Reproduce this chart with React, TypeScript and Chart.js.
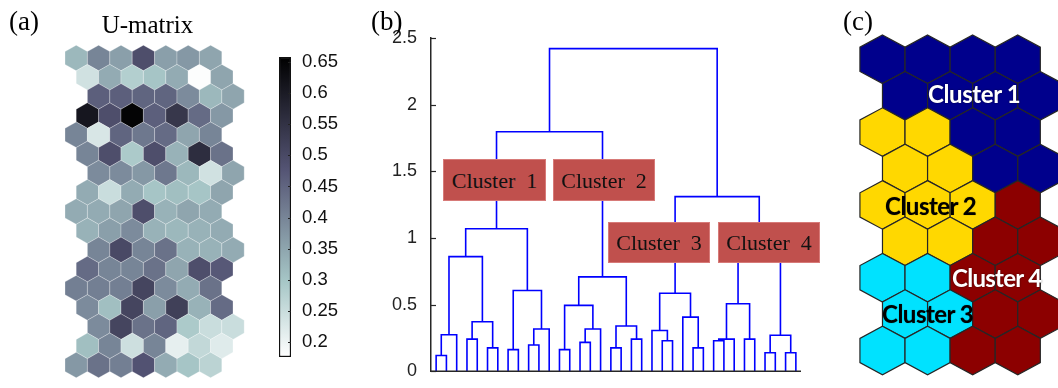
import React, { useEffect, useRef } from 'react';
import { Chart, registerables } from 'chart.js';
Chart.register(...registerables);

// ---------- (a) U-matrix ----------
const uRows: number[][] = [
  [0.32, 0.40, 0.36, 0.49, 0.36, 0.37, 0.35],
  [0.24, 0.34, 0.28, 0.30, 0.34, 0.18, 0.35],
  [0.46, 0.46, 0.45, 0.45, 0.39, 0.32, 0.35],
  [0.61, 0.49, 0.65, 0.46, 0.54, 0.44, 0.37],
  [0.40, 0.23, 0.45, 0.42, 0.44, 0.35, 0.40],
  [0.40, 0.49, 0.29, 0.49, 0.33, 0.56, 0.43],
  [0.39, 0.39, 0.37, 0.42, 0.32, 0.24, 0.35],
  [0.34, 0.25, 0.34, 0.30, 0.31, 0.30, 0.35],
  [0.34, 0.34, 0.35, 0.49, 0.33, 0.35, 0.34],
  [0.33, 0.36, 0.39, 0.33, 0.32, 0.33, 0.34],
  [0.40, 0.50, 0.40, 0.43, 0.33, 0.33, 0.34],
  [0.44, 0.40, 0.40, 0.43, 0.35, 0.49, 0.47],
  [0.41, 0.41, 0.41, 0.51, 0.39, 0.34, 0.43],
  [0.39, 0.31, 0.51, 0.36, 0.52, 0.33, 0.44],
  [0.39, 0.51, 0.43, 0.45, 0.29, 0.25, 0.25],
  [0.31, 0.40, 0.245, 0.40, 0.21, 0.26, 0.22],
  [0.37, 0.43, 0.41, 0.48, 0.34, 0.30, 0.27],
];
const uRowShift = [0, 0.5, 1, 0.5];
const cbMin = 0.176;
const cbMax = 0.658;
const cbTicks = [0.2, 0.25, 0.3, 0.35, 0.4, 0.45, 0.5, 0.55, 0.6, 0.65];
const cbLabels = ['0.2', '0.25', '0.3', '0.35', '0.4', '0.45', '0.5', '0.55', '0.6', '0.65'];

// ---------- (b) dendrogram (MATLAB linkage style: leaves 1..36, node 36+k = merge k) ----------
const nLeaves = 36;
const mergeLeft = [1, 37, 4, 6, 39, 38, 8, 10, 44, 43, 42, 13, 15, 49, 48, 18, 20, 52, 51, 47, 23, 22, 26, 25, 58, 28, 62, 31, 63, 33, 35, 66, 65, 61, 56];
const mergeRight = [2, 3, 5, 7, 40, 41, 9, 11, 12, 45, 46, 14, 16, 17, 50, 19, 21, 53, 54, 55, 24, 57, 27, 59, 60, 29, 30, 32, 64, 34, 36, 67, 68, 69, 70];
const mergeHeight = [0.118, 0.273, 0.241, 0.175, 0.371, 0.86, 0.162, 0.197, 0.317, 0.605, 1.069, 0.162, 0.216, 0.317, 0.494, 0.175, 0.241, 0.339, 0.708, 1.797, 0.229, 0.305, 0.175, 0.406, 0.585, 0.229, 0.241, 0.241, 0.506, 0.138, 0.138, 0.27, 1.0, 1.31, 2.42];
const dendTicks = [0, 0.5, 1, 1.5, 2, 2.5];
const dendTickLabels = ['0', '0.5', '1', '1.5', '2', '2.5'];
const dendBoxLabels = ['Cluster  1', 'Cluster  2', 'Cluster  3', 'Cluster  4'];

// ---------- (c) clustered map ----------
const clusterRows: number[][] = [
  [1, 1, 1, 1],
  [1, 1, 1, 1],
  [2, 2, 1, 1],
  [2, 2, 1, 1],
  [2, 2, 2, 4],
  [2, 2, 4, 4],
  [3, 3, 4, 4],
  [3, 3, 4, 4],
  [3, 3, 4, 4],
];
const clusterColors = ['#00008C', '#FFD800', '#00E2FF', '#8C0000'];
const clusterNames = ['Cluster 1', 'Cluster 2', 'Cluster 3', 'Cluster 4'];

// flipud(bone) colormap
function cmap(v: number): string {
  const cl = (x: number) => Math.min(1, Math.max(0, x));
  const t = 1 - cl((v - cbMin) / (cbMax - cbMin));
  const r = (7 * t + cl((t - 0.75) / 0.25)) / 8;
  const g = (7 * t + cl((t - 0.375) / 0.375)) / 8;
  const b = (7 * t + cl(t / 0.375)) / 8;
  return `rgb(${Math.round(r * 255)},${Math.round(g * 255)},${Math.round(b * 255)})`;
}

const hexPlugin = {
  id: 'hexCells',
  afterDatasetsDraw(chart: any, _args: any, opts: any) {
    const { ctx } = chart;
    const xs = chart.scales.x;
    const ys = chart.scales.y;
    const hw = Math.abs(xs.getPixelForValue(0.5) - xs.getPixelForValue(0));
    const hh = Math.abs(ys.getPixelForValue(2 / 3) - ys.getPixelForValue(0));
    chart.data.datasets.forEach((ds: any, di: number) => {
      const meta = chart.getDatasetMeta(di);
      meta.data.forEach((pt: any, i: number) => {
        const x = pt.x;
        const y = pt.y;
        ctx.save();
        ctx.beginPath();
        ctx.moveTo(x, y - hh);
        ctx.lineTo(x + hw, y - hh / 2);
        ctx.lineTo(x + hw, y + hh / 2);
        ctx.lineTo(x, y + hh);
        ctx.lineTo(x - hw, y + hh / 2);
        ctx.lineTo(x - hw, y - hh / 2);
        ctx.closePath();
        ctx.fillStyle = ds.backgroundColor[i];
        ctx.fill();
        ctx.strokeStyle = opts.edge;
        ctx.lineWidth = opts.edgeWidth;
        ctx.stroke();
        ctx.restore();
      });
    });
  },
};

const innerTicksPlugin = {
  id: 'innerTicks',
  afterDraw(chart: any, _args: any, opts: any) {
    const { ctx, chartArea } = chart;
    const ys = chart.scales.y;
    ctx.save();
    ctx.strokeStyle = opts.color;
    ctx.lineWidth = opts.width;
    ys.ticks.forEach((t: any) => {
      const py = Math.round(ys.getPixelForValue(t.value)) + 0.5;
      ctx.beginPath();
      if (opts.side === 'right') {
        ctx.moveTo(chartArea.right - opts.length, py);
        ctx.lineTo(chartArea.right, py);
      } else {
        ctx.moveTo(chartArea.left, py);
        ctx.lineTo(chartArea.left + opts.length, py);
      }
      ctx.stroke();
    });
    if (opts.bottomLine) {
      const py = ys.getPixelForValue(0);
      ctx.lineWidth = opts.bottomWidth;
      ctx.beginPath();
      ctx.moveTo(chartArea.left - 0.75, py);
      ctx.lineTo(chartArea.right, py);
      ctx.stroke();
    }
    ctx.restore();
  },
};

function useChart(ref: React.RefObject<HTMLCanvasElement>, make: (c: HTMLCanvasElement) => Chart) {
  useEffect(() => {
    if (!ref.current) return;
    const ch = make(ref.current);
    return () => ch.destroy();
  }, []);
}

function UMatrix() {
  const ref = useRef<HTMLCanvasElement>(null);
  useChart(ref, (c) => {
    const pts: { x: number; y: number }[] = [];
    const cols: string[] = [];
    uRows.forEach((row, r) =>
      row.forEach((v, k) => {
        pts.push({ x: k + uRowShift[r % 4], y: r });
        cols.push(cmap(v));
      })
    );
    return new Chart(c, {
      type: 'scatter',
      data: { datasets: [{ data: pts, backgroundColor: cols, pointRadius: 0 } as any] },
      options: {
        animation: false,
        responsive: false,
        devicePixelRatio: 1,
        events: [],
        layout: { padding: 0 },
        scales: {
          x: { type: 'linear', display: false, min: -3.402, max: 8.652 },
          y: { type: 'linear', display: false, min: -3.022, max: 17.197, reverse: true },
        },
        plugins: {
          legend: { display: false },
          tooltip: { enabled: false },
          hexCells: { edge: 'rgba(255,255,255,0.45)', edgeWidth: 0.6 },
        } as any,
      },
      plugins: [hexPlugin],
    });
  });
  return <canvas ref={ref} width={270} height={388} style={{ position: 'absolute', left: 0, top: 0 }} />;
}

function ColorBar() {
  const ref = useRef<HTMLCanvasElement>(null);
  useChart(ref, (c) =>
    new Chart(c, {
      type: 'bar',
      data: {
        labels: [''],
        datasets: [
          {
            data: [[cbMin, cbMax]] as any,
            backgroundColor: (ctx: any) => {
              const { chart } = ctx;
              const ys = chart.scales.y;
              if (!ys || !chart.chartArea) return '#888';
              const y0 = ys.getPixelForValue(cbMin);
              const y1 = ys.getPixelForValue(cbMax);
              const g = chart.ctx.createLinearGradient(0, y0, 0, y1);
              const stops = [0, 0.25, 0.375, 0.5, 0.625, 0.75, 1];
              stops.forEach((s) => g.addColorStop(s, cmap(cbMin + s * (cbMax - cbMin))));
              return g;
            },
            borderColor: '#111',
            borderWidth: 1.5,
            borderSkipped: false,
            barPercentage: 1,
            categoryPercentage: 1,
          } as any,
        ],
      },
      options: {
        animation: false,
        responsive: false,
        devicePixelRatio: 1,
        events: [],
        layout: { padding: { left: 9, top: 57, bottom: 31, right: 0 } },
        scales: {
          x: { display: false },
          y: {
            position: 'right',
            min: cbMin,
            max: cbMax,
            grid: { display: false },
            border: { display: false },
            afterFit: (s: any) => {
              s.width = 59;
            },
            afterBuildTicks: (s: any) => {
              s.ticks = cbTicks.map((v) => ({ value: v }));
            },
            ticks: {
              padding: 3,
              color: '#111',
              font: { family: 'Liberation Sans', size: 18.5 },
              callback: (_v: any, i: number) => cbLabels[i],
            },
          },
        },
        plugins: {
          legend: { display: false },
          tooltip: { enabled: false },
          innerTicks: { color: '#222', width: 1, length: 3, side: 'right' },
        } as any,
      },
      plugins: [innerTicksPlugin],
    })
  );
  return <canvas ref={ref} width={80} height={388} style={{ position: 'absolute', left: 270, top: 0 }} />;
}

function Dendrogram() {
  const ref = useRef<HTMLCanvasElement>(null);
  useChart(ref, (c) => {
    const nodeX = (id: number): number => {
      if (id <= nLeaves) return id;
      const k = id - nLeaves - 1;
      return (nodeX(mergeLeft[k]) + nodeX(mergeRight[k])) / 2;
    };
    const nodeH = (id: number): number => (id <= nLeaves ? 0 : mergeHeight[id - nLeaves - 1]);
    const sets = mergeLeft.map((l, k) => {
      const r = mergeRight[k];
      const h = mergeHeight[k];
      return {
        data: [
          { x: nodeX(l), y: nodeH(l) },
          { x: nodeX(l), y: h },
          { x: nodeX(r), y: h },
          { x: nodeX(r), y: nodeH(r) },
        ],
        showLine: true,
        borderColor: '#0000FF',
        borderWidth: 1.6,
        pointRadius: 0,
        tension: 0,
        fill: false,
        clip: false,
      } as any;
    });
    return new Chart(c, {
      type: 'scatter',
      data: { datasets: sets },
      options: {
        animation: false,
        responsive: false,
        devicePixelRatio: 1,
        events: [],
        layout: { padding: { left: 0, right: 29, top: 38, bottom: 11 } },
        scales: {
          x: { type: 'linear', display: false, min: 0.5, max: nLeaves + 0.5 },
          y: {
            type: 'linear',
            min: 0,
            max: 2.5,
            grid: { display: false },
            border: { display: true, color: '#262626', width: 1.5 },
            afterFit: (s: any) => {
              s.width = 71;
            },
            afterBuildTicks: (s: any) => {
              s.ticks = dendTicks.map((v) => ({ value: v }));
            },
            ticks: {
              padding: 6,
              color: '#222',
              font: { family: 'Liberation Sans', size: 18 },
              callback: (_v: any, i: number) => dendTickLabels[i],
            },
          },
        },
        plugins: {
          legend: { display: false },
          tooltip: { enabled: false },
          innerTicks: { color: '#262626', width: 1.2, length: 5, side: 'left', bottomLine: true, bottomWidth: 1.5 },
        } as any,
      },
      plugins: [innerTicksPlugin],
    });
  });
  return <canvas ref={ref} width={470} height={388} style={{ position: 'absolute', left: 360, top: 0 }} />;
}

function ClusterMap() {
  const ref = useRef<HTMLCanvasElement>(null);
  useChart(ref, (c) => {
    const pts: { x: number; y: number }[] = [];
    const cols: string[] = [];
    clusterRows.forEach((row, r) =>
      row.forEach((cid, k) => {
        pts.push({ x: k + (r % 2) * 0.5, y: r });
        cols.push(clusterColors[cid - 1]);
      })
    );
    return new Chart(c, {
      type: 'scatter',
      data: { datasets: [{ data: pts, backgroundColor: cols, pointRadius: 0 } as any] },
      options: {
        animation: false,
        responsive: false,
        devicePixelRatio: 1,
        events: [],
        layout: { padding: 0 },
        scales: {
          x: { type: 'linear', display: false, min: -0.942, max: 3.892 },
          y: { type: 'linear', display: false, min: -1.629, max: 9.03, reverse: true },
        },
        plugins: {
          legend: { display: false },
          tooltip: { enabled: false },
          hexCells: { edge: '#262626', edgeWidth: 1.2 },
        } as any,
      },
      plugins: [hexPlugin],
    });
  });
  return <canvas ref={ref} width={218} height={388} style={{ position: 'absolute', left: 840, top: 0 }} />;
}

type LabelProps = {
  text: string;
  left: number;
  baseline: number;
  size: number;
  family: string;
  asc: number;
  color?: string;
  weight?: number;
  shadow?: string;
  center?: boolean;
  spacing?: number;
};
function Label(p: LabelProps) {
  return (
    <div
      style={{
        position: 'absolute',
        left: p.left,
        top: p.baseline - p.asc * p.size,
        fontFamily: p.family,
        fontSize: p.size,
        lineHeight: `${p.size}px`,
        fontWeight: p.weight ?? 400,
        color: p.color ?? '#000',
        whiteSpace: 'pre',
        textShadow: p.shadow,
        letterSpacing: p.spacing,
        transform: p.center ? 'translateX(-50%)' : undefined,
      }}
    >
      {p.text}
    </div>
  );
}

const SERIF = '"Liberation Serif", "Times New Roman", serif';
const SANS_B = 'Lato, "Open Sans", sans-serif';

function Box(p: { text: string; left: number; top: number; w: number; h: number }) {
  return (
    <div
      style={{
        position: 'absolute',
        left: p.left,
        top: p.top,
        width: p.w,
        height: p.h,
        background: '#C0504D',
        boxShadow: 'inset 0 0 0 1px rgba(230,150,150,0.6)',
        display: 'flex',
        alignItems: 'center',
        justifyContent: 'center',
        fontFamily: SERIF,
        fontSize: 22,
        color: '#111',
        whiteSpace: 'pre',
        lineHeight: '22px',
        paddingTop: 1,
        boxSizing: 'border-box',
      }}
    >
      {p.text}
    </div>
  );
}

export default function App() {
  const whiteShadow = '0 0 2px rgba(0,0,0,0.6)';
  const blackShadow = '0 0 1px rgba(0,0,0,0.5)';
  return (
    <div style={{ position: 'absolute', left: 0, top: 0, width: 1058, height: 388, background: '#fff', overflow: 'hidden' }}>
      <UMatrix />
      <ColorBar />
      <Dendrogram />
      <ClusterMap />
      <Label text="(a)" left={9} baseline={31} size={27} family={SERIF} asc={0.8375} />
      <Label text="U-matrix" left={147.5} baseline={33} size={25} family={SERIF} asc={0.8375} center />
      <Label text="(b)" left={371} baseline={31} size={27} family={SERIF} asc={0.8375} />
      <Label text="(c)" left={843} baseline={31} size={27} family={SERIF} asc={0.8375} />
      <Box text={dendBoxLabels[0]} left={443} top={159} w={103} h={42} />
      <Box text={dendBoxLabels[1]} left={553} top={159} w={102} h={42} />
      <Box text={dendBoxLabels[2]} left={608} top={222} w={102} h={41} />
      <Box text={dendBoxLabels[3]} left={718} top={222} w={102} h={41} />
      <Label text={clusterNames[0]} left={928} baseline={103} size={24} weight={700} family={SANS_B} asc={0.887} color="#fff" shadow={whiteShadow} spacing={-0.4} />
      <Label text={clusterNames[1]} left={885} baseline={215} size={24} weight={700} family={SANS_B} asc={0.887} color="#000" shadow={blackShadow} spacing={-0.5} />
      <Label text={clusterNames[3]} left={952} baseline={287} size={24} weight={700} family={SANS_B} asc={0.887} color="#fff" shadow={whiteShadow} spacing={-0.7} />
      <Label text={clusterNames[2]} left={882} baseline={323} size={24} weight={700} family={SANS_B} asc={0.887} color="#000" shadow={blackShadow} spacing={-0.5} />
    </div>
  );
}
